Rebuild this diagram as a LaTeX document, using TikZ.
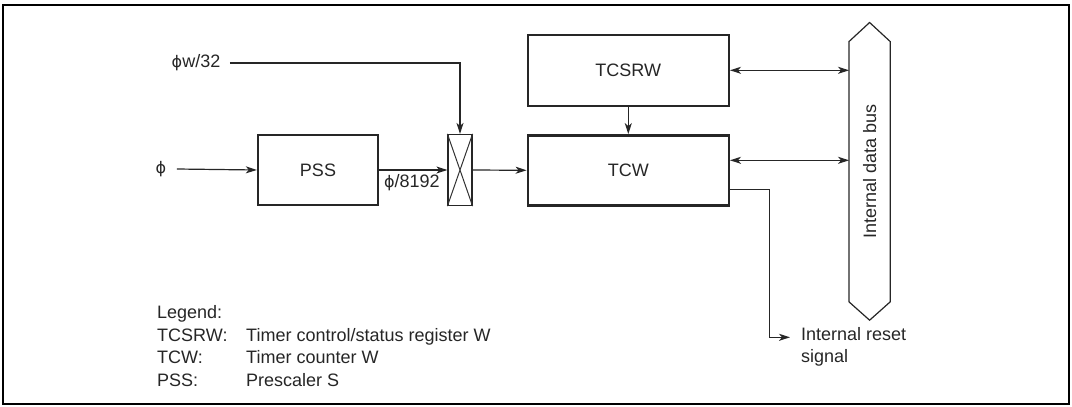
\documentclass[tikz,border=0pt]{standalone}
\usepackage{fontspec}
\setmainfont{Liberation Sans}
\newfontfamily\phifont{DejaVu Sans}
\newcommand{\phisym}{{\phifont\fontsize{16}{20}\selectfont ϕ}}
\usepackage{tikz}
\usetikzlibrary{arrows.meta,positioning,calc}

\begin{document}
\begin{tikzpicture}[
  x=1pt, y=-1pt,
  every node/.style={font=\fontsize{18}{22.5}\selectfont, text=black!85},
  blk/.style={draw=black!85, line width=2.4pt, minimum width=201pt, minimum height=70pt, inner sep=0pt},
  arr/.style={-{Stealth[length=11pt,width=7pt,inset=3pt]}, line width=1.2pt, draw=black!85},
  biarr/.style={{Stealth[length=11pt,width=7pt,inset=3pt]}-{Stealth[length=11pt,width=7pt,inset=3pt]}, line width=1.2pt, draw=black!85},
]
\useasboundingbox (0,0) rectangle (1072,407);
\draw[line width=2.6pt] (3,5) rectangle (1069,404);

% blocks
\node[blk, minimum width=120pt] (pss) at (318,170) {PSS};
\node[draw=black!85, line width=1.2pt, minimum width=24pt, minimum height=71pt, inner sep=0pt] (mux) at (460,170) {};
\draw[line width=1pt, black!80] (mux.north west) -- (mux.south east) (mux.north east) -- (mux.south west);
\node[blk] (tcw) at (628.3,170.3) {TCW};
\node[blk, minimum height=71pt] (tcsrw) at (628.3,70.3) {TCSRW};

% internal data bus
\node[minimum width=40.7pt, minimum height=260pt, inner sep=0pt] (bus) at (869.6,171.7) {};
\node[rotate=90] (buslbl) at (bus.center) {Internal data bus};
\draw[line width=1.2pt, black!85] (bus.south west) -- (bus.north west) -- ([yshift=19pt]bus.north)
  -- (bus.north east) -- (bus.south east) -- ([yshift=-18.3pt]bus.south) -- cycle;

% inputs
\node (phi) at (161,169) {\phisym};
\node (phiw) at (196,63) {\phisym w/32};
\draw[arr] ([xshift=7pt]phi.east) -- (pss.west);
\draw[arr] ([xshift=6pt]phiw.east) -| (mux.north);
\draw[arr] (pss.east) -- node[below=4pt, inner sep=0pt, xshift=-1.5pt] (div) {\phisym/8192} (mux.west);
\draw[arr] (mux.east) -- (tcw.west);
\draw[arr] (tcsrw.south) -- (tcw.north);

% bus connections
\draw[biarr] (tcsrw.east) -- (tcsrw.east -| bus.west);
\draw[biarr] ([yshift=10pt]tcw.east) -- ([yshift=10pt]tcw.east -| bus.west);

% reset output
\coordinate (rstturn) at (769.3,337.3);
\node[anchor=north west, align=left, inner sep=0pt] (rst) at (801,327) {Internal reset\\signal};
\draw[arr] ([yshift=-19pt]tcw.east) -| (rstturn) -- ([xshift=-11pt]rstturn -| rst.west);

% legend
\node[anchor=north west, inner sep=0pt] (legend) at (157,303) {%
  \begin{tabular}{@{}p{89pt}@{}l@{}}
  Legend: & \\
  TCSRW: & Timer control/status register W\\
  TCW: & Timer counter W\\
  PSS: & Prescaler S
  \end{tabular}};
\end{tikzpicture}
\end{document}
